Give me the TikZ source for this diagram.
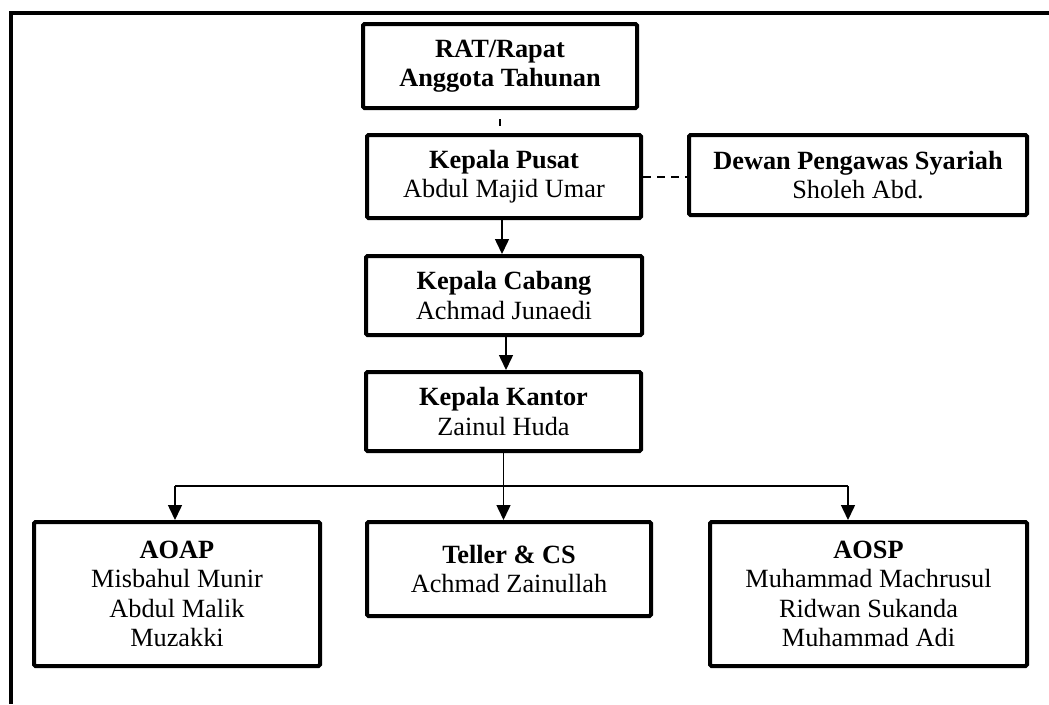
\documentclass[tikz,border=0pt]{standalone}
\usepackage{fontspec}
\setmainfont{Liberation Serif}
\usetikzlibrary{arrows.meta}
\tikzset{
  box/.style={draw, line width=4pt, rounded corners=1.5pt, align=center,
    inner sep=0pt, font=\fontsize{26.3}{29.3}\selectfont},
  conn/.style={line width=1.5pt, -{Triangle[length=15pt,width=14pt]}},
  plain/.style={line width=1.5pt},
  dashconn/.style={line width=2pt, dash pattern=on 8pt off 6pt},
  frame/.style={line width=4pt}
}
\begin{document}
\begin{tikzpicture}[x=1pt,y=-1pt]
\useasboundingbox (0,0) rectangle (1049,704);
\coordinate (fa) at (1049,12.5);
\coordinate (fb) at (10.5,12.5);
\coordinate (fc) at (10.5,704);
\draw[frame] (fa) -- (fb) -- (fc);

\node[box, minimum width=274pt, minimum height=84pt] (rat) at (500,66)
  {\textbf{RAT/Rapat}\\\textbf{Anggota Tahunan}};
\node[box, minimum width=274pt, minimum height=83pt] (pusat) at (504,176.5)
  {\textbf{Kepala Pusat}\\Abdul Majid Umar};
\node[box, minimum width=338pt, minimum height=80pt] (dewan) at (858,175)
  {\textbf{Dewan Pengawas Syariah}\\Sholeh Abd.};
\node[box, minimum width=276pt, minimum height=79pt] (cabang) at (504,295.5)
  {\textbf{Kepala Cabang}\\Achmad Junaedi};
\node[box, minimum width=275pt, minimum height=79pt] (kantor) at (503.5,411.5)
  {\textbf{Kepala Kantor}\\Zainul Huda};
\node[box, minimum width=286pt, minimum height=144pt] (aoap) at (177,594)
  {\textbf{AOAP}\\Misbahul Munir\\Abdul Malik\\Muzakki};
\node[box, minimum width=284pt, minimum height=94pt] (teller) at (509,569)
  {\textbf{Teller \& CS}\\Achmad Zainullah};
\node[box, minimum width=317pt, minimum height=144pt] (aosp) at (868.5,594)
  {\textbf{AOSP}\\Muhammad Machrusul\\Ridwan Sukanda\\Muhammad Adi};

\draw[line width=1.5pt, dash pattern=on 7pt off 20pt, dash phase=18pt]
  (rat.south) -- (rat.south |- pusat.north);
\draw[dashconn] (pusat.east) -- (pusat.east -| dewan.west);
\draw[conn] ([xshift=-2pt]pusat.south) -- ([xshift=-2pt]pusat.south |- cabang.north);
\draw[conn] ([xshift=2pt]cabang.south) -- ([xshift=2pt]cabang.south |- kantor.north);

\coordinate (busl) at (175,486);
\coordinate (busr) at (848,486);
\draw[plain] (kantor.south) -- (kantor.south |- busl);
\draw[plain] (busl) -- (busr);
\draw[conn] (kantor.south) -- (kantor.south |- teller.north);
\draw[conn] (busl) -- (busl |- aoap.north);
\draw[conn] (busr) -- (busr |- aosp.north);
\end{tikzpicture}
\end{document}
